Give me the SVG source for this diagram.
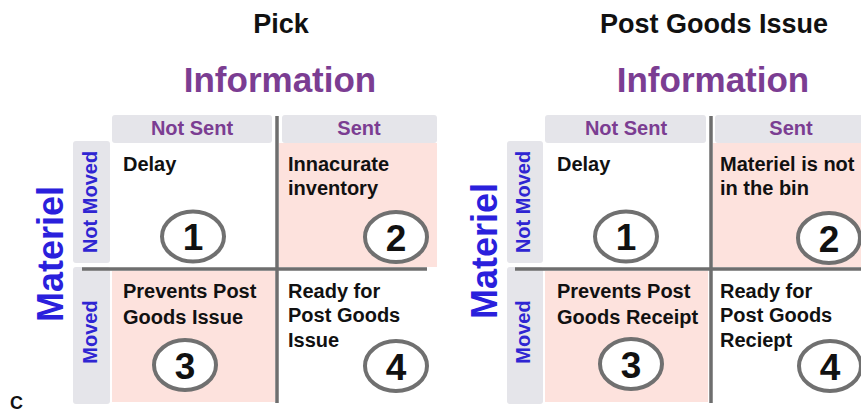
<svg xmlns="http://www.w3.org/2000/svg" width="861" height="413" viewBox="0 0 861 413">
  <style>
    text { font-family: "Liberation Sans", Arial, sans-serif; font-weight: bold; }
    .title { font-size: 27px; fill: #111; text-anchor: middle; }
    .info { font-size: 35px; fill: #7b3d92; text-anchor: middle; }
    .axis { font-size: 36px; fill: #2a20dc; text-anchor: middle; }
    .hdr { fill: #e5e5ea; }
    .hdrtxt { font-size: 20px; fill: #7b3d92; text-anchor: middle; }
    .rowtxt { font-size: 20px; fill: #2f25d2; text-anchor: middle; }
    .pink { fill: #fde2dd; }
    .cell { font-size: 20px; fill: #111; }
    .ring { fill: #fff; stroke: #707070; stroke-width: 4; }
    .num { font-size: 37px; fill: #111; text-anchor: middle; }
    .div { stroke: #6e6e6e; stroke-width: 3.5; }
  </style>

  <!-- Left matrix: Pick -->
  <g id="pick-matrix">
    <text class="title" x="281" y="33">Pick</text>
    <text class="info" x="280" y="92">Information</text>
    <text class="axis" transform="translate(63,254) rotate(-90)">Materiel</text>

    <g id="pick-col-not-sent">
      <rect class="hdr" x="112" y="115" width="160" height="28" rx="3"/>
      <text class="hdrtxt" x="192" y="135">Not Sent</text>
    </g>
    <g id="pick-col-sent">
      <rect class="hdr" x="282" y="115" width="155" height="28" rx="3"/>
      <text class="hdrtxt" x="359" y="135">Sent</text>
    </g>
    <g id="pick-row-not-moved">
      <rect class="hdr" x="73" y="141" width="37" height="122" rx="3"/>
      <text class="rowtxt" transform="translate(97,202) rotate(-90)">Not Moved</text>
    </g>
    <g id="pick-row-moved">
      <rect class="hdr" x="73" y="267" width="37" height="137" rx="3"/>
      <text class="rowtxt" transform="translate(97,332) rotate(-90)">Moved</text>
    </g>

    <g id="pick-cell-1">
      <text class="cell" x="123" y="171">Delay</text>
      <ellipse class="ring" cx="193" cy="236.5" rx="31" ry="25"/>
      <text class="num" x="193" y="250">1</text>
    </g>
    <g id="pick-cell-2">
      <rect class="pink" x="279" y="143" width="158" height="124"/>
      <text class="cell" x="288" y="171">Innacurate</text>
      <text class="cell" x="288" y="195">inventory</text>
      <ellipse class="ring" cx="396" cy="237" rx="31" ry="25"/>
      <text class="num" x="396" y="250.5">2</text>
    </g>
    <g id="pick-cell-3">
      <rect class="pink" x="112" y="271" width="163" height="131"/>
      <text class="cell" x="123" y="298">Prevents Post</text>
      <text class="cell" x="123" y="324">Goods Issue</text>
      <ellipse class="ring" cx="185" cy="365" rx="31" ry="25"/>
      <text class="num" x="185" y="378.5">3</text>
    </g>
    <g id="pick-cell-4">
      <text class="cell" x="288" y="298">Ready for</text>
      <text class="cell" x="288" y="322">Post Goods</text>
      <text class="cell" x="288" y="347">Issue</text>
      <ellipse class="ring" cx="396" cy="366" rx="31" ry="25"/>
      <text class="num" x="396" y="379.5">4</text>
    </g>
  </g>

  <!-- Right matrix: Post Goods Issue -->
  <g id="pgi-matrix">
    <text class="title" x="714" y="33">Post Goods Issue</text>
    <text class="info" x="713" y="92">Information</text>
    <text class="axis" transform="translate(497,251) rotate(-90)">Materiel</text>

    <g id="pgi-col-not-sent">
      <rect class="hdr" x="545" y="115" width="161" height="28" rx="3"/>
      <text class="hdrtxt" x="626" y="135">Not Sent</text>
    </g>
    <g id="pgi-col-sent">
      <rect class="hdr" x="715" y="115" width="150" height="28" rx="3"/>
      <text class="hdrtxt" x="791" y="135">Sent</text>
    </g>
    <g id="pgi-row-not-moved">
      <rect class="hdr" x="507" y="141" width="36" height="122" rx="3"/>
      <text class="rowtxt" transform="translate(530,202) rotate(-90)">Not Moved</text>
    </g>
    <g id="pgi-row-moved">
      <rect class="hdr" x="507" y="267" width="36" height="137" rx="3"/>
      <text class="rowtxt" transform="translate(530,332) rotate(-90)">Moved</text>
    </g>

    <g id="pgi-cell-1">
      <text class="cell" x="557" y="171">Delay</text>
      <ellipse class="ring" cx="626" cy="236.5" rx="31" ry="25"/>
      <text class="num" x="626" y="250">1</text>
    </g>
    <g id="pgi-cell-2">
      <rect class="pink" x="713" y="143" width="150" height="124"/>
      <text class="cell" x="720" y="171">Materiel is not</text>
      <text class="cell" x="720" y="195">in the bin</text>
      <ellipse class="ring" cx="829" cy="238" rx="31" ry="25"/>
      <text class="num" x="829" y="251.5">2</text>
    </g>
    <g id="pgi-cell-3">
      <rect class="pink" x="545" y="271" width="163" height="131"/>
      <text class="cell" x="557" y="298">Prevents Post</text>
      <text class="cell" x="557" y="324">Goods Receipt</text>
      <ellipse class="ring" cx="631" cy="364" rx="31" ry="25"/>
      <text class="num" x="631" y="377.5">3</text>
    </g>
    <g id="pgi-cell-4">
      <text class="cell" x="720" y="298">Ready for</text>
      <text class="cell" x="720" y="322">Post Goods</text>
      <text class="cell" x="720" y="347">Reciept</text>
      <ellipse class="ring" cx="830" cy="366" rx="31" ry="25"/>
      <text class="num" x="830" y="379.5">4</text>
    </g>
  </g>

  <!-- Quadrant dividers -->
  <g id="dividers">
    <line class="div" x1="277" y1="116" x2="277" y2="403"/>
    <line class="div" x1="82" y1="269" x2="427" y2="269"/>
    <line class="div" x1="711" y1="116" x2="711" y2="403"/>
    <line class="div" x1="515" y1="269" x2="861" y2="269"/>
  </g>

  <text x="10" y="409" style="font-size:18px; fill:#111;">C</text>
</svg>
